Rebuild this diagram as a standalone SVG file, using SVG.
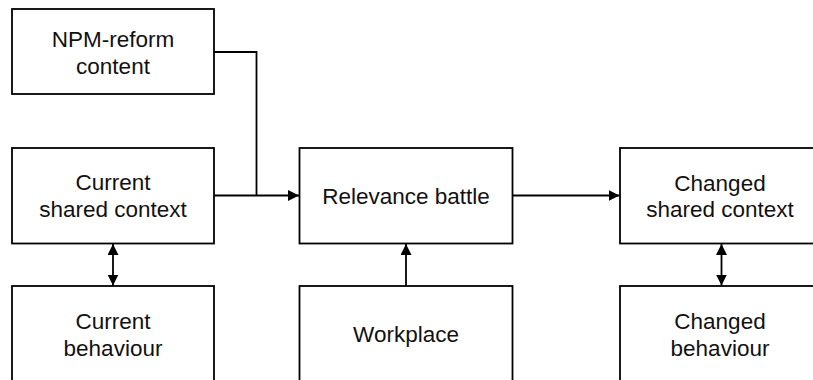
<svg xmlns="http://www.w3.org/2000/svg" width="813" height="380" viewBox="0 0 813 380">
<defs>
<marker id="ah" viewBox="0 0 10 10" refX="10" refY="5" markerWidth="11" markerHeight="11" markerUnits="userSpaceOnUse" orient="auto-start-reverse">
<path d="M0,0 L10,5 L0,10 z" fill="#000"/>
</marker>
<style>
.box{fill:#fff;stroke:#000;stroke-width:1.8}
.t{font-family:"Liberation Sans",Arial,sans-serif;font-size:22.5px;fill:#111;text-anchor:middle}
.c{fill:none;stroke:#000;stroke-width:1.8}
</style>
</defs>
<rect width="813" height="380" fill="#fff"/>
<g id="npm">
<rect class="box" x="12" y="9" width="202" height="85"/>
<text class="t" x="113" y="46.5">NPM-reform</text>
<text class="t" x="113" y="73.5">content</text>
</g>
<g id="current-context">
<rect class="box" x="12" y="148" width="202" height="95.5"/>
<text class="t" x="113" y="190">Current</text>
<text class="t" x="113" y="217">shared context</text>
</g>
<g id="current-behaviour">
<rect class="box" x="12" y="286" width="202" height="110"/>
<text class="t" x="113" y="329">Current</text>
<text class="t" x="113" y="356">behaviour</text>
</g>
<g id="relevance">
<rect class="box" x="299.5" y="148" width="213" height="95.5"/>
<text class="t" x="406" y="203.5">Relevance battle</text>
</g>
<g id="workplace">
<rect class="box" x="299.5" y="286" width="213" height="110"/>
<text class="t" x="406" y="341.5">Workplace</text>
</g>
<g id="changed-context">
<rect class="box" x="620" y="148" width="240" height="95.5"/>
<text class="t" x="720" y="191">Changed</text>
<text class="t" x="720" y="217">shared context</text>
</g>
<g id="changed-behaviour">
<rect class="box" x="620" y="286" width="240" height="110"/>
<text class="t" x="720" y="329">Changed</text>
<text class="t" x="720" y="356">behaviour</text>
</g>
<g id="connectors">
<polyline class="c" points="214,52 256.5,52 256.5,195.5"/>
<line class="c" x1="214" y1="195.5" x2="299" y2="195.5" marker-end="url(#ah)"/>
<line class="c" x1="512.5" y1="195.5" x2="619.5" y2="195.5" marker-end="url(#ah)"/>
<line class="c" x1="406" y1="286" x2="406" y2="244" marker-end="url(#ah)"/>
<line class="c" x1="113" y1="244" x2="113" y2="285.5" marker-start="url(#ah)" marker-end="url(#ah)"/>
<line class="c" x1="721.5" y1="244" x2="721.5" y2="285.5" marker-start="url(#ah)" marker-end="url(#ah)"/>
</g>
</svg>
